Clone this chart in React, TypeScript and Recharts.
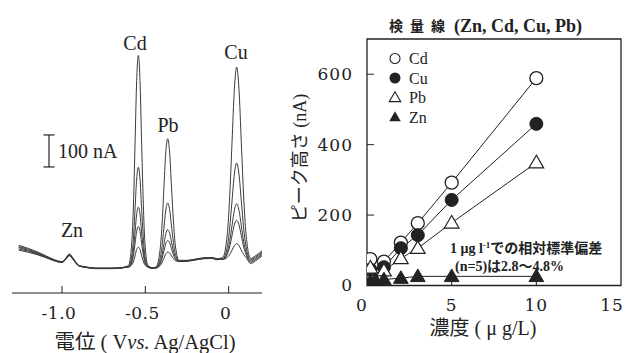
import React from 'react';
import { LineChart, Line, XAxis, YAxis, ReferenceLine, ReferenceDot, ReferenceArea } from 'recharts';

// ---------- Left panel: voltammograms ----------
const potentials = [
  -1.26, -1.2, -1.15, -1.1, -1.05, -1.0, -0.98, -0.956, -0.93, -0.9, -0.85, -0.8, -0.7, -0.65, -0.62,
  -0.6, -0.58, -0.57, -0.561, -0.552, -0.542, -0.532, -0.523, -0.513, -0.504, -0.485, -0.454,
  -0.435, -0.412, -0.4, -0.389, -0.378, -0.366, -0.354, -0.343, -0.331, -0.32, -0.297,
  -0.25, -0.2, -0.15, -0.1, -0.07,
  -0.036, -0.008, 0.006, 0.02, 0.034, 0.048, 0.062, 0.076, 0.09, 0.104, 0.132, 0.16, 0.2,
];
const trace10 = [
  69, 59, 49, 37, 25, 18, 27, 42, 26, 7, 1, -2, -2, -1, 2,
  7, 90, 215, 402, 584, 662, 584, 402, 215, 90, 7, -1,
  2, 53, 130, 243, 354, 402, 358, 251, 142, 69, 22,
  22, 26, 30, 31, 27,
  31, 105, 220, 389, 555, 626, 555, 389, 220, 105, 28, 36, 52,
];
const trace5 = [
  65, 56, 46, 35, 24, 17, 26, 40, 25, 6, 0, -3, -3, -2, 1,
  3, 42, 102, 190, 276, 313, 276, 190, 102, 42, 3, -2,
  0, 26, 65, 121, 176, 201, 180, 129, 77, 42, 20,
  21, 25, 29, 30, 26,
  27, 65, 122, 207, 291, 326, 291, 207, 122, 65, 24, 32, 48,
];
const trace3 = [
  62, 53, 44, 34, 23, 17, 25, 39, 24, 6, 0, -3, -3, -2, 1,
  2, 25, 61, 114, 166, 188, 166, 114, 61, 25, 2, -3,
  -1, 15, 38, 71, 103, 118, 107, 79, 50, 31, 19,
  20, 24, 28, 29, 25,
  26, 48, 81, 130, 178, 199, 178, 130, 81, 48, 20, 28, 44,
];
const trace2 = [
  58, 50, 42, 32, 22, 16, 24, 38, 23, 5, 0, -3, -3, -2, 0,
  1, 17, 42, 78, 113, 128, 113, 78, 42, 17, 1, -3,
  -1, 10, 27, 50, 73, 84, 77, 58, 39, 26, 19,
  20, 24, 28, 29, 25,
  25, 41, 64, 99, 133, 147, 133, 99, 64, 41, 16, 24, 40,
];
const trace1 = [
  54, 47, 40, 31, 21, 15, 23, 36, 22, 5, -1, -4, -4, -3, 0,
  1, 9, 20, 38, 56, 63, 56, 38, 20, 9, 1, -3,
  -2, 5, 15, 28, 41, 48, 45, 36, 27, 21, 18,
  19, 23, 27, 28, 24,
  25, 31, 40, 54, 68, 74, 68, 54, 40, 31, 12, 20, 36,
];
const traces = [trace10, trace5, trace3, trace2, trace1];
const potentialTicks = [-1.0, -0.5, 0];
const peakLabels = [
  { name: 'Zn', v: -0.94, i: 117 },
  { name: 'Cd', v: -0.562, i: 701 },
  { name: 'Pb', v: -0.364, i: 445 },
  { name: 'Cu', v: 0.044, i: 673 },
];
const scaleBar = { v: -1.078, from: 313.75, to: 413.75, cap: 0.033, label: '100 nA' };

const vaData = potentials.map((v, idx) => {
  const row: any = { v };
  traces.forEach((t, k) => { row['t' + k] = t[idx]; });
  return row;
});

// ---------- Right panel: calibration curves ----------
const concentrations = [0.2, 1, 2, 3, 5, 10];
const znConcentrations = [0.2, 0.5, 1, 2, 3, 5, 10];
const cdHeights = [75, 68, 122, 177, 292, 589];
const cuHeights = [45, 52, 106, 143, 243, 459];
const pbHeights = [50, 42, 77, 106, 178, 349];
const znHeights = [12, 15, 17, 21, 26, 26, 26];
const concTicks = [0, 5, 10, 15];
const heightTicks = [0, 200, 400, 600];
const legendNames = ['Cd', 'Cu', 'Pb', 'Zn'];

const toPts = (xs: number[], ys: number[]) => xs.map((x, i) => ({ x, y: ys[i] }));
const cdData = toPts(concentrations, cdHeights);
const cuData = toPts(concentrations, cuHeights);
const pbData = toPts(concentrations, pbHeights);
const znData = toPts(znConcentrations, znHeights);

const SERIF = "'Liberation Serif', 'Times New Roman', 'Noto Sans CJK JP', serif";
const NUM = "'DejaVu Serif', 'Liberation Serif', serif";
const INK = '#222';

const triPts = (cx: number, cy: number, s: number) =>
  `${cx},${cy - s * 1.05} ${cx - s * 1.05},${cy + s * 0.75} ${cx + s * 1.05},${cy + s * 0.75}`;

const openCircle = (p: any) => (
  <circle key={p.key} cx={p.cx} cy={p.cy} r={6.5} fill="#fff" stroke={INK} strokeWidth={1.3} />
);
const fillCircle = (p: any) => (
  <circle key={p.key} cx={p.cx} cy={p.cy} r={6.5} fill={INK} stroke={INK} strokeWidth={1} />
);
const openTri = (p: any) => (
  <polygon key={p.key} points={triPts(p.cx, p.cy, 7)} fill="#fff" stroke={INK} strokeWidth={1.2} />
);
const fillTri = (p: any) => (
  <polygon key={p.key} points={triPts(p.cx, p.cy, 7)} fill={INK} stroke={INK} strokeWidth={1} />
);

const fmtPot = (v: number) => (v === 0 ? '0' : v.toFixed(1));

const LeftTick = (props: any) => {
  const { x, y, payload } = props;
  return (
    <g>
      <line x1={x} x2={x} y1={y - 20} y2={y - 27} stroke={INK} strokeWidth={1} />
      <text x={x - 3} y={y} dy="0.35em" textAnchor="middle" fontFamily={NUM} fontSize={17} letterSpacing={0.5} fill={INK}>
        {fmtPot(payload.value)}
      </text>
    </g>
  );
};

const ConcTick = (props: any) => {
  const { x, y, payload } = props;
  const inner = payload.value !== 0 && payload.value !== 15;
  const shift = payload.value === 0 ? -5 : payload.value === 15 ? -8 : 0;
  return (
    <g>
      {inner && <line x1={x} x2={x} y1={y - 19.5} y2={y - 25.5} stroke={INK} strokeWidth={1} />}
      <text x={x + shift} y={y} dy="0.35em" textAnchor="middle" fontFamily={NUM} fontSize={17} letterSpacing={1} fill={INK}>
        {payload.value}
      </text>
    </g>
  );
};

const HeightTick = (props: any) => {
  const { x, y, payload } = props;
  const inner = payload.value !== 0;
  return (
    <g>
      {inner && <line x1={x + 14} x2={x + 21} y1={y} y2={y} stroke={INK} strokeWidth={1} />}
      <text x={x} y={y} dy="0.35em" textAnchor="end" fontFamily={NUM} fontSize={17} letterSpacing={1} fill={INK}>
        {payload.value}
      </text>
    </g>
  );
};

export default function App() {
  const legendMarkers = [
    (cx: number, cy: number) => <circle cx={cx} cy={cy} r={5} fill="#fff" stroke={INK} strokeWidth={1.1} />,
    (cx: number, cy: number) => <circle cx={cx} cy={cy} r={5.5} fill={INK} />,
    (cx: number, cy: number) => <polygon points={triPts(cx, cy, 5.5)} fill="#fff" stroke={INK} strokeWidth={1.1} />,
    (cx: number, cy: number) => <polygon points={triPts(cx, cy, 5.5)} fill={INK} />,
  ];
  return (
    <div style={{ position: 'absolute', left: 0, top: 0, width: 628, height: 353, background: '#fff' }}>
      {/* Right: calibration */}
      <div style={{ position: 'absolute', left: 0, top: 0 }}>
        <LineChart width={628} height={353} margin={{ top: 39, right: 7, left: 307, bottom: 27.5 }}>
          <XAxis
            type="number"
            dataKey="x"
            domain={[0, 15]}
            ticks={concTicks}
            axisLine={false}
            tickLine={false}
            tickSize={0}
            tickMargin={19.5}
            height={40}
            tick={<ConcTick />}
            allowDataOverflow
          />
          <YAxis
            type="number"
            domain={[0, 700]}
            ticks={heightTicks}
            axisLine={false}
            tickLine={false}
            tickSize={0}
            tickMargin={14}
            width={60}
            tick={<HeightTick />}
            allowDataOverflow
          />
          <ReferenceArea x1={0} x2={15} y1={0} y2={700} fill="none" stroke={INK} strokeWidth={1.3} ifOverflow="visible" />
          <Line data={cdData} dataKey="y" type="linear" stroke={INK} strokeWidth={1} dot={openCircle} isAnimationActive={false} />
          <Line data={cuData} dataKey="y" type="linear" stroke={INK} strokeWidth={1} dot={fillCircle} isAnimationActive={false} />
          <Line data={pbData} dataKey="y" type="linear" stroke={INK} strokeWidth={1} dot={openTri} isAnimationActive={false} />
          <Line data={znData} dataKey="y" type="linear" stroke={INK} strokeWidth={1} dot={fillTri} isAnimationActive={false} />
        </LineChart>
      </div>

      {/* Left: voltammograms */}
      <div style={{ position: 'absolute', left: 0, top: 0 }}>
        <LineChart width={270} height={353} data={vaData} margin={{ top: 43, right: 8, left: 12, bottom: 0 }}>
          <XAxis
            type="number"
            dataKey="v"
            domain={[-1.3, 0.2]}
            ticks={potentialTicks}
            axisLine={{ stroke: INK, strokeWidth: 1.2 }}
            tickLine={false}
            tickSize={0}
            tickMargin={20}
            height={60}
            tick={<LeftTick />}
            allowDataOverflow
          />
          <YAxis hide type="number" domain={[-80, 701]} allowDataOverflow />
          {traces.map((_, k) => (
            <Line
              key={k}
              dataKey={'t' + k}
              type="monotone"
              stroke="#3a3a3a"
              strokeWidth={1}
              dot={false}
              isAnimationActive={false}
            />
          ))}
          <ReferenceLine
            segment={[{ x: scaleBar.v, y: scaleBar.from }, { x: scaleBar.v, y: scaleBar.to }]}
            stroke={INK}
            strokeWidth={1.2}
            ifOverflow="visible"
          />
          <ReferenceLine
            segment={[{ x: scaleBar.v - scaleBar.cap, y: scaleBar.from }, { x: scaleBar.v + scaleBar.cap, y: scaleBar.from }]}
            stroke={INK}
            strokeWidth={1.2}
            ifOverflow="visible"
          />
          <ReferenceLine
            segment={[{ x: scaleBar.v - scaleBar.cap, y: scaleBar.to }, { x: scaleBar.v + scaleBar.cap, y: scaleBar.to }]}
            stroke={INK}
            strokeWidth={1.2}
            ifOverflow="visible"
          />
          <ReferenceDot
            x={scaleBar.v + 0.054}
            y={(scaleBar.from + scaleBar.to) / 2}
            r={0}
            fill="none"
            stroke="none"
            ifOverflow="visible"
            label={{ value: scaleBar.label, position: 'right', offset: 0, fill: INK, fontSize: 20, fontFamily: SERIF }}
          />
          {peakLabels.map((p) => (
            <ReferenceDot
              key={p.name}
              x={p.v}
              y={p.i}
              r={0}
              fill="none"
              stroke="none"
              ifOverflow="visible"
              label={{ value: p.name, position: 'center', fill: INK, fontSize: 20, fontFamily: SERIF }}
            />
          ))}
        </LineChart>
      </div>

      {/* Text overlay */}
      <svg width={628} height={353} style={{ position: 'absolute', left: 0, top: 0, pointerEvents: 'none' }}>
        <text y={26} dy="0.35em" fill={INK} fontWeight="bold" fontFamily="'Noto Sans CJK JP', sans-serif" fontSize={14}>
          <tspan x={389}>検</tspan>
          <tspan x={410}>量</tspan>
          <tspan x={431}>線</tspan>
        </text>
        <text x={454} y={26} dy="0.35em" fill={INK} fontWeight="bold" fontFamily={SERIF} fontSize={18}>
          (Zn, Cd, Cu, Pb)
        </text>

        {legendNames.map((n, i) => {
          const cy = 58.5 + i * 19.5;
          return (
            <g key={n}>
              {legendMarkers[i](395, cy)}
              <text x={409} y={cy} dy="0.35em" fill={INK} fontFamily={SERIF} fontSize={16}>
                {n}
              </text>
            </g>
          );
        })}

        <text x={450} y={248} dy="0.35em" fill={INK} fontWeight="bold" fontFamily={SERIF} fontSize={14}>
          1 μg l
          <tspan dy="-5" fontSize={9}>-1</tspan>
          <tspan dy="5">での相対標準偏差</tspan>
        </text>
        <text x={455} y={266} dy="0.35em" fill={INK} fontWeight="bold" fontFamily={SERIF} fontSize={14}>
          (n=5)は2.8～4.8%
        </text>

        <text
          x={300}
          y={158}
          dy="0.35em"
          textAnchor="middle"
          transform="rotate(-90, 300, 158)"
          fill={INK}
          fontFamily={SERIF}
          fontSize={18}
        >
          ピーク高さ (nA)
        </text>
        <text x={483} y={328} dy="0.35em" textAnchor="middle" fill={INK} fontFamily={SERIF} fontSize={20}>
          濃度 ( μ g/L)
        </text>
        <text x={145} y={342} dy="0.35em" textAnchor="middle" fill={INK} fontFamily={SERIF} fontSize={20.5}>
          電位 ( V<tspan fontStyle="italic">vs.</tspan> Ag/AgCl)
        </text>
      </svg>
    </div>
  );
}
